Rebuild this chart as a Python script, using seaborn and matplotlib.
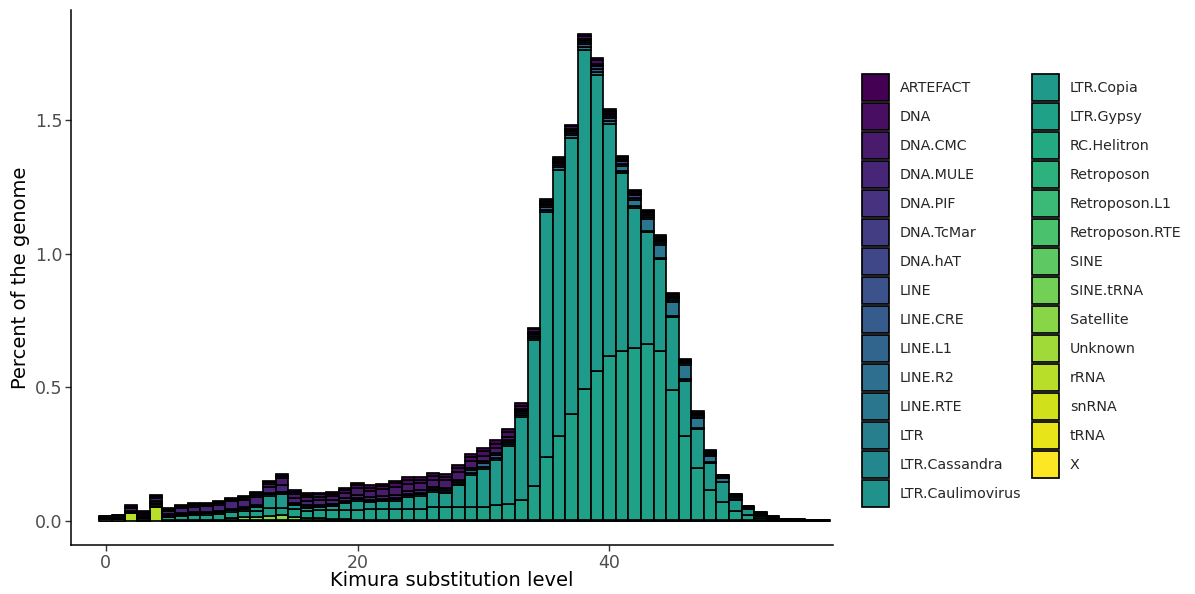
import numpy as np
import pandas as pd
import matplotlib
matplotlib.use("Agg")
import matplotlib.pyplot as plt
import seaborn as sns

# ---------------- data ----------------
kimura = list(range(58))

classes = ["ARTEFACT", "DNA", "DNA.CMC", "DNA.MULE", "DNA.PIF", "DNA.TcMar", "DNA.hAT",
           "LINE", "LINE.CRE", "LINE.L1", "LINE.R2", "LINE.RTE", "LTR", "LTR.Cassandra",
           "LTR.Caulimovirus", "LTR.Copia", "LTR.Gypsy", "RC.Helitron", "Retroposon",
           "Retroposon.L1", "Retroposon.RTE", "SINE", "SINE.tRNA", "Satellite", "Unknown",
           "rRNA", "snRNA", "tRNA", "X"]

artefact = [0, 0, 0.005, 0.004, 0.005, 0.004, 0.004, 0.004, 0.004, 0.004,
            0.004, 0.004, 0.004, 0.005, 0.007, 0.006, 0.006, 0.006, 0.006, 0.007,
            0.008, 0.008, 0.008, 0.009, 0.009, 0.009, 0.009, 0.009, 0.010, 0.011,
            0.012, 0.013, 0.013, 0.009, 0.007, 0.006, 0.005, 0.005, 0.009, 0.008,
            0.006, 0.005, 0.004, 0.004, 0.006, 0.004, 0.003, 0.004, 0.003, 0.001,
            0.001, 0, 0, 0, 0, 0, 0, 0]
dna = [0.006, 0.006, 0.006, 0.007, 0.006, 0.004, 0.005, 0.005, 0.005, 0.005,
       0.005, 0.005, 0.005, 0.007, 0.009, 0.008, 0.009, 0.009, 0.008, 0.010,
       0.012, 0.012, 0.012, 0.013, 0.014, 0.013, 0.014, 0.014, 0.016, 0.017,
       0.017, 0.018, 0.017, 0.012, 0.009, 0.008, 0.008, 0.008, 0.012, 0.012,
       0.008, 0.007, 0.007, 0.005, 0.008, 0.005, 0.003, 0.004, 0.003, 0.002,
       0.001, 0.001, 0.001, 0.001, 0.001, 0.001, 0.001, 0.0005]
dna_cmc = [0, 0, 0, 0, 0.002, 0.003, 0.004, 0.005, 0.005, 0.005,
           0.003, 0.004, 0.010, 0.010, 0.027, 0.015, 0.014, 0.013, 0.013, 0.020,
           0.025, 0.022, 0.023, 0.030, 0.028, 0.025, 0.027, 0.027, 0.027, 0.025,
           0.022, 0.018, 0.011, 0.004, 0.004, 0.004, 0.004, 0.004, 0.005, 0.005,
           0.005, 0.004, 0.004, 0.004, 0.004, 0.004, 0.003, 0.003, 0.003, 0.002,
           0.002, 0.001, 0.001, 0, 0, 0, 0, 0]
dna_mule = [0.004, 0.005, 0.008, 0.008, 0.012, 0.012, 0.018, 0.020, 0.021, 0.025,
            0.028, 0.029, 0.029, 0.025, 0.025, 0.020, 0.018, 0.017, 0.015, 0.012,
            0.012, 0.012, 0.012, 0.012, 0.010, 0.010, 0.008, 0.008, 0.008, 0.008,
            0.007, 0.007, 0.007, 0.005, 0.004, 0.004, 0.004, 0.004, 0.005, 0.005,
            0.005, 0.005, 0.005, 0.005, 0.005, 0.004, 0.003, 0.003, 0.003, 0.002,
            0.002, 0.001, 0.001, 0.001, 0, 0, 0, 0]
dna_hat = [0, 0, 0, 0, 0, 0, 0, 0, 0, 0,
           0, 0, 0, 0, 0, 0, 0, 0, 0, 0,
           0, 0, 0, 0, 0, 0, 0, 0, 0, 0,
           0, 0, 0, 0.006, 0.007, 0.008, 0.009, 0.009, 0.010, 0.010,
           0.009, 0.008, 0.008, 0.008, 0.008, 0.007, 0.005, 0.005, 0.004, 0.003,
           0.003, 0.002, 0.002, 0.001, 0.001, 0, 0, 0]
line_l1 = [0, 0, 0.003, 0.003, 0.004, 0.003, 0.003, 0.003, 0.003, 0.003,
           0.003, 0.003, 0.004, 0.004, 0.004, 0.005, 0.004, 0.004, 0.004, 0.004,
           0.004, 0.004, 0.005, 0.005, 0.005, 0.005, 0.005, 0.007, 0.008, 0.012,
           0.015, 0.011, 0.009, 0.007, 0.008, 0.008, 0.008, 0.008, 0.008, 0.010,
           0.012, 0.008, 0.008, 0.008, 0.008, 0.008, 0.006, 0.007, 0.006, 0.004,
           0.003, 0.002, 0.002, 0.001, 0, 0, 0, 0]
line_rte = [0, 0, 0, 0, 0, 0, 0, 0, 0, 0,
            0, 0, 0, 0, 0, 0, 0, 0, 0, 0,
            0, 0, 0, 0, 0, 0, 0, 0, 0, 0,
            0, 0, 0, 0, 0, 0, 0, 0, 0, 0,
            0, 0.018, 0.025, 0.044, 0.046, 0.052, 0.054, 0.035, 0.021, 0.012,
            0.008, 0.004, 0.003, 0.002, 0.001, 0.001, 0, 0]
ltr = [0, 0, 0, 0, 0.004, 0.003, 0.003, 0.003, 0.003, 0.003,
       0.003, 0.004, 0.004, 0.005, 0.005, 0.004, 0.004, 0.004, 0.004, 0.004,
       0.005, 0.005, 0.005, 0.006, 0.006, 0.006, 0.006, 0.006, 0.006, 0.007,
       0.007, 0.008, 0.008, 0.008, 0.008, 0.008, 0.010, 0.011, 0.013, 0.012,
       0.010, 0.008, 0.007, 0.006, 0.006, 0.006, 0.005, 0.005, 0.004, 0.003,
       0.003, 0.002, 0.002, 0.002, 0.001, 0.001, 0, 0]
ltr_copia = [0, 0, 0, 0.003, 0.008, 0.004, 0.004, 0.004, 0.004, 0.005,
             0.006, 0.008, 0.012, 0.046, 0.050, 0.015, 0.012, 0.012, 0.015, 0.025,
             0.035, 0.026, 0.027, 0.030, 0.045, 0.049, 0.055, 0.050, 0.082, 0.120,
             0.143, 0.170, 0.216, 0.310, 0.546, 0.917, 0.996, 1.033, 1.268, 1.108,
             0.868, 0.668, 0.522, 0.419, 0.344, 0.272, 0.207, 0.144, 0.102, 0.072,
             0.040, 0.020, 0.008, 0.004, 0.002, 0.001, 0.001, 0.001]
ltr_gypsy = [0.004, 0.005, 0.004, 0.007, 0.004, 0.012, 0.016, 0.019, 0.020, 0.021,
             0.022, 0.022, 0.025, 0.029, 0.026, 0.029, 0.026, 0.031, 0.035, 0.035,
             0.037, 0.040, 0.042, 0.042, 0.042, 0.042, 0.050, 0.050, 0.047, 0.047,
             0.047, 0.054, 0.060, 0.077, 0.128, 0.238, 0.315, 0.397, 0.492, 0.559,
             0.615, 0.633, 0.646, 0.658, 0.633, 0.488, 0.315, 0.197, 0.112, 0.069,
             0.037, 0.022, 0.010, 0.004, 0.002, 0.001, 0.001, 0]
satellite = [0, 0, 0, 0, 0, 0, 0, 0, 0, 0,
             0.008, 0.010, 0.010, 0.016, 0.020, 0.010, 0.008, 0.006, 0.003, 0.002,
             0, 0, 0, 0, 0, 0, 0, 0, 0, 0,
             0, 0, 0, 0, 0, 0, 0, 0, 0, 0,
             0, 0, 0, 0, 0, 0, 0, 0, 0, 0,
             0, 0, 0, 0, 0, 0, 0, 0]
unknown = [0.005, 0.005, 0.004, 0.004, 0, 0.003, 0.003, 0.003, 0.003, 0.003,
           0.003, 0.003, 0.003, 0.003, 0.003, 0.003, 0.003, 0.003, 0.003, 0.003,
           0.003, 0.003, 0.003, 0.003, 0.003, 0.003, 0.003, 0.003, 0.003, 0.003,
           0.003, 0.003, 0.003, 0.002, 0.002, 0.002, 0.002, 0.002, 0.002, 0.002,
           0.002, 0.002, 0.002, 0.002, 0.002, 0.002, 0.002, 0.002, 0.002, 0.002,
           0.001, 0.001, 0.001, 0, 0, 0, 0, 0]
rrna = [0, 0, 0.027, 0, 0.052, 0, 0, 0, 0, 0,
        0, 0, 0, 0, 0, 0, 0, 0, 0, 0,
        0, 0, 0, 0, 0, 0, 0, 0, 0, 0,
        0, 0, 0, 0, 0, 0, 0, 0, 0, 0,
        0, 0, 0, 0, 0, 0, 0, 0, 0, 0,
        0, 0, 0, 0, 0, 0, 0, 0]

series = {
    "ARTEFACT": artefact, "DNA": dna, "DNA.CMC": dna_cmc, "DNA.MULE": dna_mule,
    "DNA.hAT": dna_hat, "LINE.L1": line_l1, "LINE.RTE": line_rte, "LTR": ltr,
    "LTR.Copia": ltr_copia, "LTR.Gypsy": ltr_gypsy, "Satellite": satellite,
    "Unknown": unknown, "rRNA": rrna,
}

rows = []
for cls, vals in series.items():
    for k, v in zip(kimura, vals):
        if v > 0:
            rows.append((k, cls, v))
df = pd.DataFrame(rows, columns=["Kimura", "Class", "Percent"])

# ggplot-like discrete viridis (endpoints included)
cmap = matplotlib.colormaps["viridis"]
palette = {c: cmap(i / (len(classes) - 1)) for i, c in enumerate(classes)}

# ---------------- plot ----------------
sns.set_style("ticks")
plt.rcParams["font.family"] = ["DejaVu Sans"]

W, H = 1195, 594
fig = plt.figure(figsize=(W / 100, H / 100), dpi=100)
ax = fig.add_axes([71 / W, 1 - 545 / H, (833 - 71) / W, (545 - 10) / H])

sns.histplot(data=df, x="Kimura", weights="Percent", hue="Class", hue_order=classes,
             multiple="stack", discrete=True, palette=palette,
             edgecolor="black", linewidth=1.25, alpha=1, shrink=1, ax=ax)

ax.set_xlim(-2.75, 57.75)
ax.set_ylim(-0.091, 1.912)
ax.set_xticks([0, 20, 40])
ax.set_yticks([0, 0.5, 1.0, 1.5])
ax.set_yticklabels(["0.0", "0.5", "1.0", "1.5"])
ax.tick_params(colors="#333333", labelcolor="#4d4d4d", labelsize=12.5, length=4, width=1)
ax.tick_params(axis="x", pad=2.5)
ax.tick_params(axis="y", pad=2)
for s in ["top", "right"]:
    ax.spines[s].set_visible(False)
for s in ["left", "bottom"]:
    ax.spines[s].set_linewidth(1.1)
    ax.spines[s].set_color("black")
ax.set_xlabel("Kimura substitution level", fontsize=14, color="black")
ax.xaxis.set_label_coords(0.5, -0.0486)
ax.set_ylabel("Percent of the genome", fontsize=14, color="black")

old = ax.get_legend()
handles = old.legend_handles
labels = [t.get_text() for t in old.get_texts()]
old.remove()
ax.legend(handles, labels, loc="upper left", bbox_to_anchor=(862 / W, 1 - 74 / H),
          bbox_transform=fig.transFigure, ncol=2, frameon=False, fontsize=10.3,
          handlelength=1.92, handleheight=2.58, labelspacing=0.105, handletextpad=0.73,
          columnspacing=0.73, borderpad=0, borderaxespad=0)

fig.savefig("out.png", dpi=100)
